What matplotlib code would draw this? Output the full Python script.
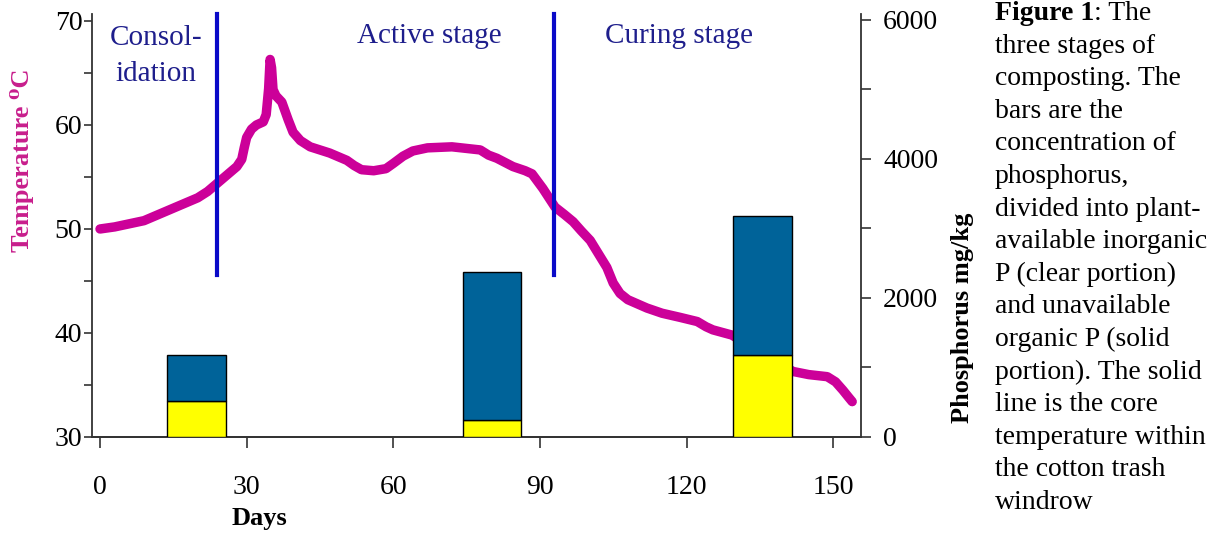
import matplotlib
matplotlib.use("Agg")
import matplotlib.pyplot as plt
from matplotlib.ticker import MultipleLocator

# ---------------- data ----------------
temp_days = [0.0, 3.0, 6.0, 9.0, 12.0, 15.0, 18.0, 20.0, 22.0, 24.0, 26.0, 28.0,
             29.0, 29.5, 30.0, 31.0, 32.0, 33.4, 34.0, 34.5, 34.8, 35.1, 35.4,
             36.0, 37.2, 38.5, 39.5, 41.0, 43.0, 47.0, 50.5, 52.0, 53.5, 56.0,
             58.5, 60.0, 62.0, 64.0, 67.0, 72.0, 77.8, 79.5, 81.2, 84.5, 87.0,
             88.4, 89.5, 90.6, 93.1, 95.0, 96.8, 98.5, 100.3, 102.0, 103.7,
             105.0, 106.4, 108.0, 111.9, 115.0, 118.7, 122.2, 124.0, 125.4,
             129.3, 135.5, 141.8, 145.0, 148.8, 150.5, 152.0, 153.2, 153.9]
temp_vals = [50.0, 50.2, 50.5, 50.8, 51.4, 52.0, 52.6, 53.0, 53.6, 54.4, 55.2, 56.0,
             56.7, 57.8, 58.8, 59.6, 60.0, 60.3, 61.0, 63.5, 66.3, 65.5, 63.4,
             62.8, 62.2, 60.5, 59.3, 58.5, 57.9, 57.3, 56.6, 56.1, 55.7, 55.6,
             55.8, 56.3, 57.0, 57.5, 57.8, 57.9, 57.6, 57.1, 56.8, 56.0, 55.6,
             55.3, 54.6, 53.9, 52.1, 51.4, 50.7, 49.8, 48.9, 47.6, 46.3,
             44.8, 43.8, 43.2, 42.4, 41.9, 41.5, 41.1, 40.6, 40.3,
             39.8, 38.0, 36.3, 36.0, 35.8, 35.3, 34.5, 33.8, 33.4]

bar_days = [19.7, 80.2, 135.6]
p_inorganic = [520, 245, 1180]     # plant-available (clear portion)
p_organic = [660, 2130, 2000]      # unavailable (solid portion)

stage_bounds = [23.9, 92.9]
stage_names = ["Active stage", "Curing stage"]

x_ticks = [0, 30, 60, 90, 120, 150]
temp_ticks = [30, 40, 50, 60, 70]
p_ticks = [0, 2000, 4000, 6000]

caption_lines = ["three stages of", "composting. The", "bars are the",
                 "concentration of", "phosphorus,", "divided into plant-",
                 "available inorganic", "P (clear portion)", "and unavailable",
                 "organic P (solid", "portion). The solid", "line is the core",
                 "temperature within", "the cotton trash", "windrow"]

# ---------------- figure ----------------
W, H = 1225, 533
SERIF = ['Liberation Serif', 'DejaVu Serif']
plt.rcParams['font.family'] = SERIF

fig = plt.figure(figsize=(W / 100, H / 100), dpi=100)
fig.patch.set_facecolor('white')

def fx(px):
    return px / W

def fy(py):
    return 1 - py / H

ax = fig.add_axes([fx(92), fy(437), (861 - 92) / W, (437 - 14) / H])
ax.plot(temp_days, temp_vals, color='#CC0099', lw=6.8,
        solid_capstyle='round', solid_joinstyle='round', zorder=2)
ax.set_xlim(-1.64, 155.7)
ax.set_ylim(30, 70.67)

ax2 = ax.twinx()
ax2.set_ylim(0, 6086)
ax2.bar(bar_days, p_inorganic, width=12, color='#FFFF00', edgecolor='black',
        linewidth=1.0, zorder=3)
ax2.bar(bar_days, p_organic, width=12, bottom=p_inorganic, color='#006399',
        edgecolor='black', linewidth=1.0, zorder=3)
for d in stage_bounds:
    ax2.axvline(d, ymin=0.383, ymax=1.0, color='#0A0AC8', lw=3.0, zorder=4,
                clip_on=False)

spine_col = '#333333'
for a in (ax, ax2):
    a.spines['top'].set_visible(False)
    for s in a.spines.values():
        s.set_color(spine_col)
        s.set_linewidth(1.3)
ax.spines['right'].set_visible(False)
ax2.spines['left'].set_visible(False)

ax.set_xticks(x_ticks)
ax.set_xticklabels([str(v) for v in x_ticks])
ax.set_yticks(temp_ticks)
ax.set_yticklabels([str(v) for v in temp_ticks])
ax.yaxis.set_minor_locator(MultipleLocator(5))
ax.tick_params(axis='x', direction='out', length=8, width=1.2, pad=19,
               labelsize=20, colors=spine_col, labelcolor='black')
ax.tick_params(axis='y', which='both', direction='out', length=6, width=1.2,
               pad=1, labelsize=20, colors=spine_col, labelcolor='black')

ax2.set_yticks(p_ticks)
ax2.set_yticklabels([str(v) for v in p_ticks])
ax2.yaxis.set_minor_locator(MultipleLocator(1000))
ax2.tick_params(axis='y', which='both', direction='out', length=7, width=1.2,
                pad=9, labelsize=20, colors=spine_col, labelcolor='black')

# stage labels
stage_col = '#1E1E8C'
fig.text(fx(156), fy(45), "Consol-", fontsize=21, color=stage_col,
         ha='center', va='baseline')
fig.text(fx(156), fy(81), "idation", fontsize=21, color=stage_col,
         ha='center', va='baseline')
fig.text(fx(429), fy(43), stage_names[0], fontsize=21, color=stage_col,
         ha='center', va='baseline')
fig.text(fx(679), fy(43), stage_names[1], fontsize=21, color=stage_col,
         ha='center', va='baseline')

# axis labels
fig.text(fx(22), fy(160), "Temperature \u2070C", fontsize=19, fontweight='bold',
         color='#C81E8C', rotation=90, ha='center', va='center')
fig.text(fx(962), fy(318), "Phosphorus mg/kg", fontsize=19, fontweight='bold',
         color='black', rotation=90, ha='center', va='center')
fig.text(fx(259), fy(518), "Days", fontsize=19, fontweight='bold',
         color='black', ha='center', va='center')

# caption
cap_x = 995
base0 = 20
step = 32.6
t_bold = fig.text(fx(cap_x), fy(base0), "Figure 1", fontsize=20, fontweight='bold',
                  ha='left', va='baseline')
fig.canvas.draw()
bb = t_bold.get_window_extent(renderer=fig.canvas.get_renderer())
fig.text(bb.x1 / W, fy(base0), ": The", fontsize=20, ha='left', va='baseline')
for i, line in enumerate(caption_lines):
    fig.text(fx(cap_x), fy(base0 + step * (i + 1)), line, fontsize=20,
             ha='left', va='baseline')

fig.savefig("out.png", dpi=100, facecolor='white')
